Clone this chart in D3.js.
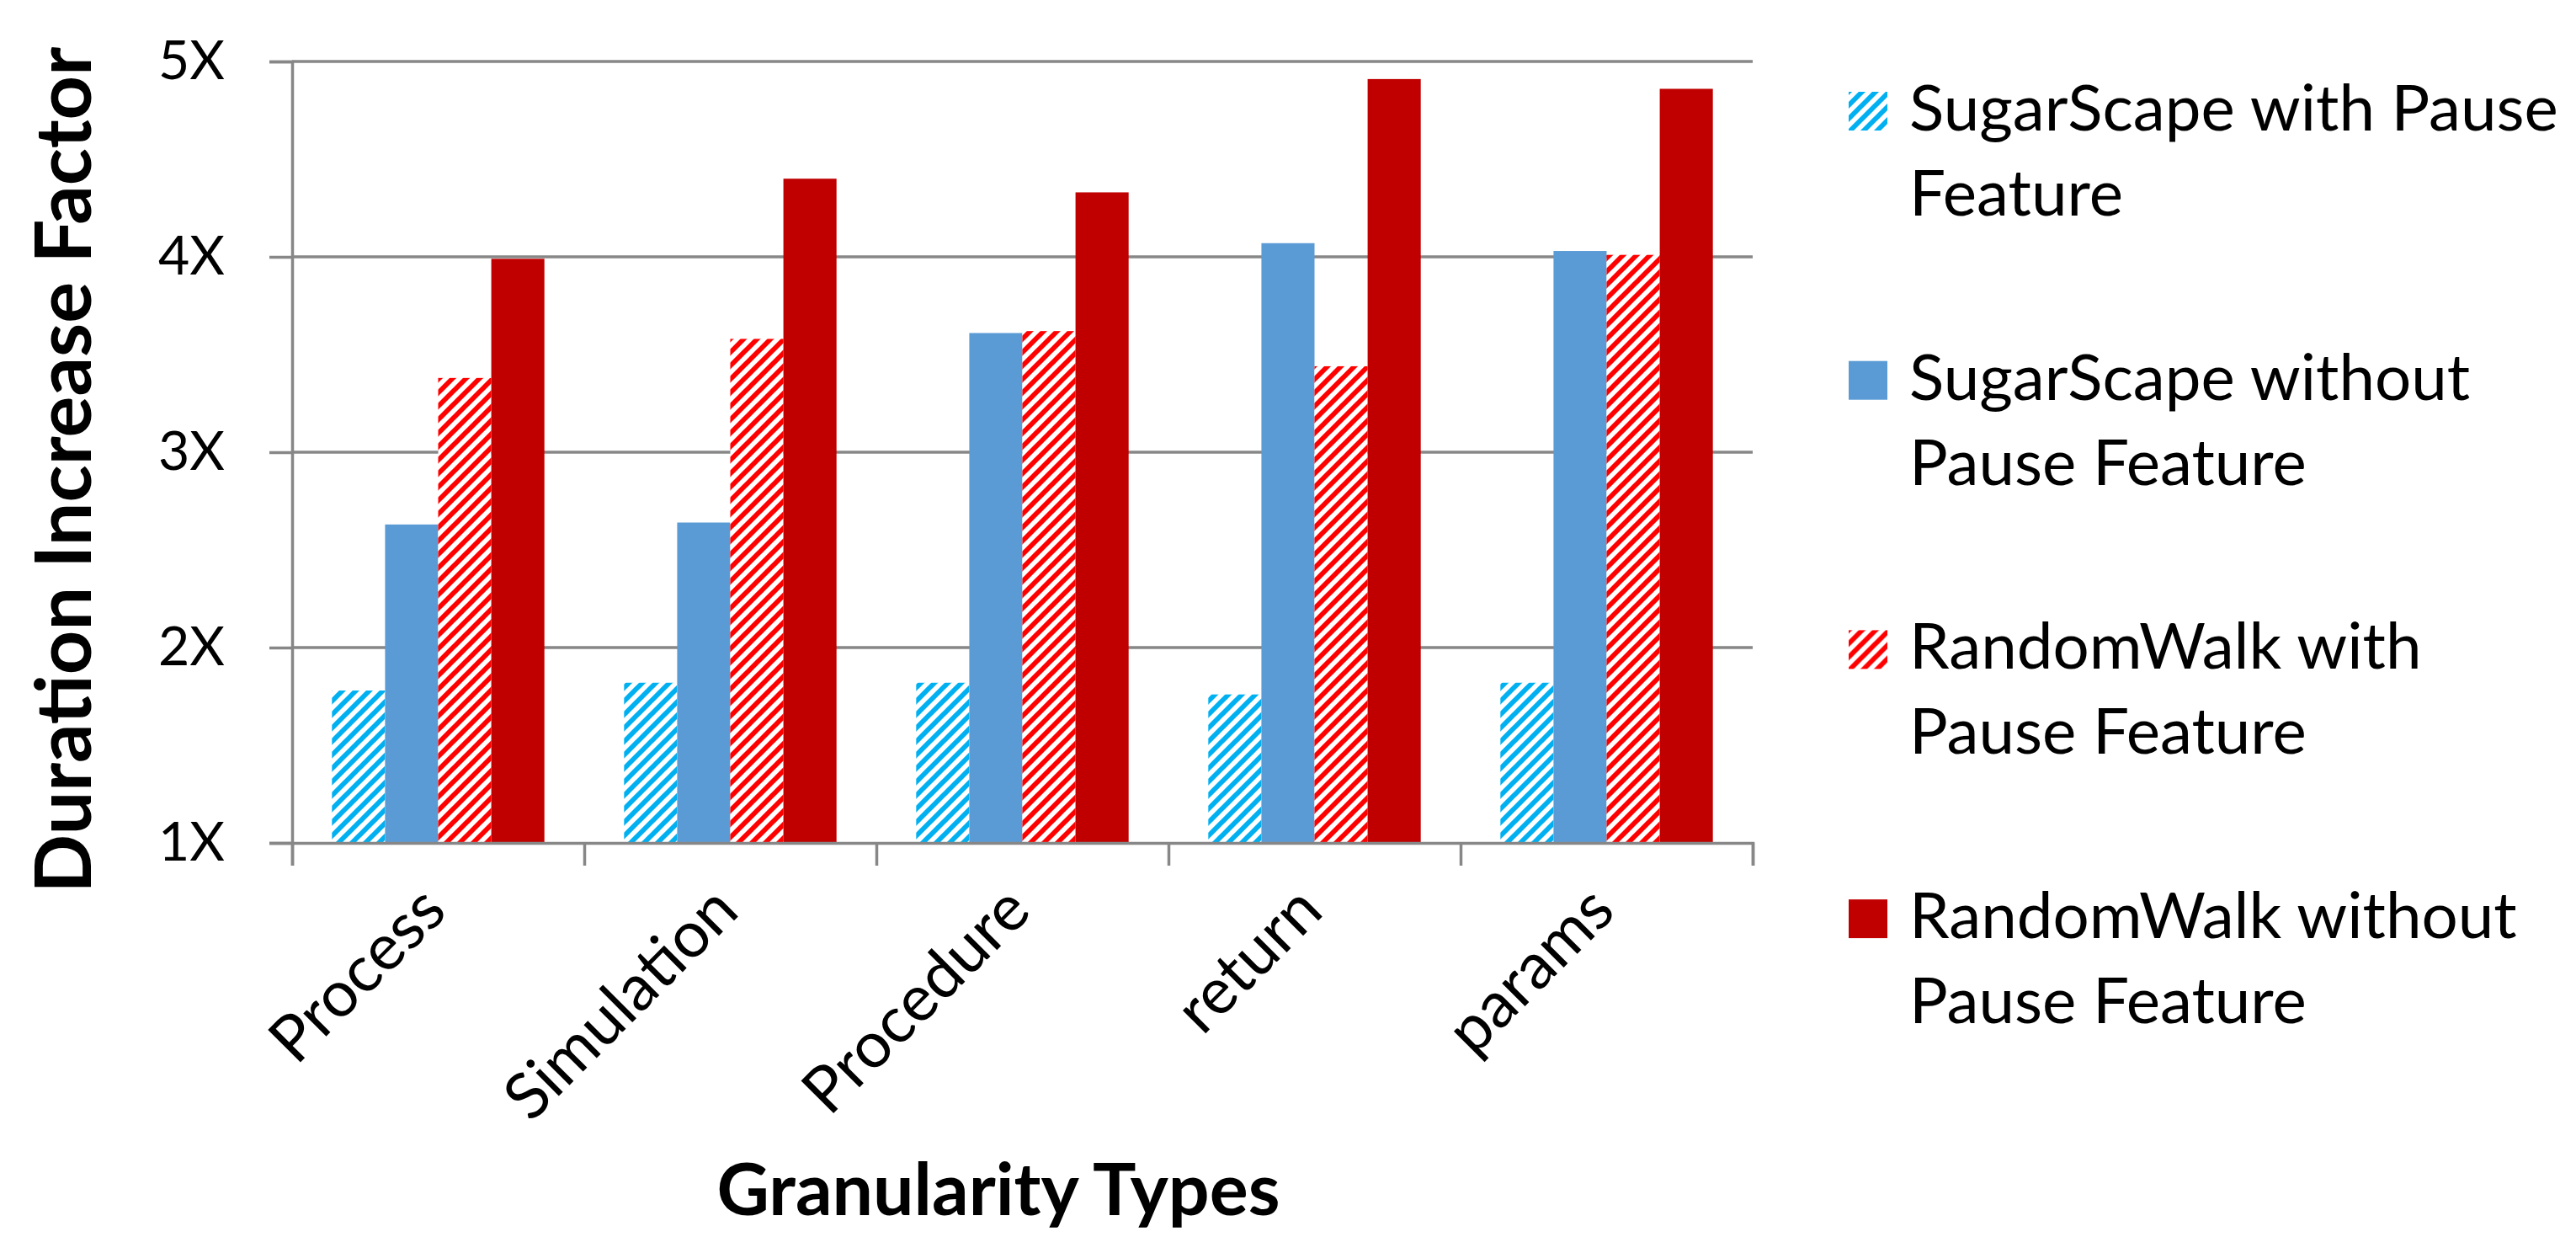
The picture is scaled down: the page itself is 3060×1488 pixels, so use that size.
<!DOCTYPE html>
<html>
<head>
<meta charset="utf-8">
<script src="https://cdn.jsdelivr.net/npm/d3@7"></script>
<style>
  html, body { margin: 0; padding: 0; background: #ffffff; }
  svg { display: block; }
  text { font-family: Lato, "Noto Sans", sans-serif; fill: #000; }
</style>
</head>
<body>
<svg id="chart" width="3060" height="1488"></svg>
<script>
// ---- data ----
const categories = ["Process", "Simulation", "Procedure", "return", "params"];
const seriesNames = [
  "SugarScape with Pause Feature",
  "SugarScape without Pause Feature",
  "RandomWalk with Pause Feature",
  "RandomWalk without Pause Feature"
];
const legendLines = [
  ["SugarScape with Pause", "Feature"],
  ["SugarScape without", "Pause Feature"],
  ["RandomWalk with", "Pause Feature"],
  ["RandomWalk without", "Pause Feature"]
];
const sugarWithPause    = [1.78, 1.82, 1.82, 1.76, 1.82];
const sugarWithoutPause = [2.63, 2.64, 3.61, 4.07, 4.03];
const randomWithPause   = [3.38, 3.58, 3.62, 3.44, 4.01];
const randomWithoutPause= [3.99, 4.40, 4.33, 4.91, 4.86];
const seriesValues = [sugarWithPause, sugarWithoutPause, randomWithPause, randomWithoutPause];
const yTickValues = [1, 2, 3, 4, 5];
const yTickLabels = ["1X", "2X", "3X", "4X", "5X"];
const xTitle = "Granularity Types";
const yTitle = "Duration Increase Factor";

// ---- layout ----
const plotLeft = 347, plotRight = 2082, plotTop = 73, plotBottom = 1001;
const gridColor = "#878787";
const fills = ["url(#hatchCyan)", "#5B9BD5", "url(#hatchRed)", "#C00000"];

const svg = d3.select("#chart");
svg.append("rect").attr("width", 3060).attr("height", 1488).attr("fill", "#fff");

// patterns
const defs = svg.append("defs");
function hatch(id, color) {
  const p = 16;
  const pat = defs.append("pattern").attr("id", id)
    .attr("patternUnits", "userSpaceOnUse").attr("width", p).attr("height", p);
  pat.append("rect").attr("width", p).attr("height", p).attr("fill", "#fff");
  pat.append("path")
    .attr("d", `M0,${p} L${p},0 M${-p/4},${p/4} L${p/4},${-p/4} M${3*p/4},${5*p/4} L${5*p/4},${3*p/4}`)
    .attr("stroke", color).attr("stroke-width", 5.8).attr("stroke-linecap", "square");
}
hatch("hatchCyan", "#00B0F0");
hatch("hatchRed", "#FF0000");

// scales
const y = d3.scaleLinear().domain([1, 5]).range([plotBottom, plotTop]);
const x0 = d3.scaleBand().domain(categories).range([plotLeft, plotRight]).padding(0);
const x1 = d3.scaleBand().domain(d3.range(seriesNames.length)).range([0, x0.bandwidth()])
  .paddingInner(0).paddingOuter(0.75);
const xb = d3.scaleLinear().domain([0, categories.length]).range([plotLeft, plotRight]);

// gridlines
svg.append("g").selectAll("line").data(yTickValues.filter(v => v > 1)).join("line")
  .attr("x1", plotLeft).attr("x2", plotRight)
  .attr("y1", d => y(d)).attr("y2", d => y(d))
  .attr("stroke", gridColor).attr("stroke-width", 3.5);

// bars
const groups = svg.append("g").selectAll("g").data(categories).join("g")
  .attr("transform", d => `translate(${x0(d)},0)`);
groups.selectAll("rect")
  .data((c, ci) => seriesValues.map((vals, si) => ({ si, v: vals[ci] })))
  .join("rect")
  .attr("x", d => x1(d.si))
  .attr("width", x1.bandwidth())
  .attr("y", d => y(d.v))
  .attr("height", d => y(1) - y(d.v))
  .attr("fill", d => fills[d.si]);

// fit font helper
function fitSize(str, weight, target, base) {
  const t = svg.append("text").attr("font-size", base).attr("font-weight", weight).text(str);
  const w = t.node().getComputedTextLength();
  t.remove();
  return base * target / w;
}
const labelSize = fitSize("SugarScape with Pause", 400, 771, 80);
const tickSize = fitSize("5X", 400, 79, 80);
const xTitleSize = fitSize(xTitle, 700, 669, 90);
const yTitleSize = fitSize(yTitle, 700, 1005, 90);

// y axis
const yAxis = d3.axisLeft(y).tickValues(yTickValues)
  .tickFormat((d, i) => yTickLabels[i]).tickSize(27).tickPadding(53);
const gy = svg.append("g").attr("transform", `translate(${plotLeft},0)`).call(yAxis);
gy.select(".domain").attr("stroke", gridColor).attr("stroke-width", 3.5);
gy.selectAll(".tick line").attr("stroke", gridColor).attr("stroke-width", 3.5);
gy.selectAll(".tick text").attr("font-size", Math.min(tickSize, labelSize * 1.05))
  .attr("font-family", "Lato, 'Noto Sans', sans-serif").attr("fill", "#000");

// x axis (boundary ticks)
const xAxis = d3.axisBottom(xb).tickValues(d3.range(categories.length + 1))
  .tickFormat("").tickSize(27).tickSizeOuter(27);
const gx = svg.append("g").attr("transform", `translate(0,${plotBottom})`).call(xAxis);
gx.select(".domain").attr("stroke", gridColor).attr("stroke-width", 3.5);
gx.selectAll(".tick line").attr("stroke", gridColor).attr("stroke-width", 3.5);

// x category labels (rotated)
svg.append("g").selectAll("text").data(categories).join("text")
  .attr("transform", d => `translate(${x0(d) + x0.bandwidth() / 2 - 6},1066) rotate(-45)`)
  .attr("text-anchor", "end").attr("dy", "0.35em")
  .attr("font-size", labelSize)
  .text(d => d);

// axis titles
svg.append("text").attr("x", 1186).attr("y", 1443).attr("text-anchor", "middle")
  .attr("font-size", xTitleSize).attr("font-weight", 700).text(xTitle);
svg.append("text").attr("transform", "translate(108,558) rotate(-90)")
  .attr("text-anchor", "middle").attr("font-size", yTitleSize).attr("font-weight", 700).text(yTitle);

// legend
const legend = svg.append("g").selectAll("g").data(seriesNames).join("g")
  .attr("transform", (d, i) => `translate(2196,${109 + i * 319.7})`);
legend.append("rect").attr("width", 46).attr("height", 46).attr("fill", (d, i) => fills[i]);
legend.each(function(d, i) {
  const t = d3.select(this).append("text").attr("x", 72).attr("y", 46).attr("font-size", labelSize);
  legendLines[i].forEach((line, li) => {
    t.append("tspan").attr("x", 72).attr("dy", li === 0 ? 0 : 101).text(line);
  });
});
</script>
</body>
</html>
